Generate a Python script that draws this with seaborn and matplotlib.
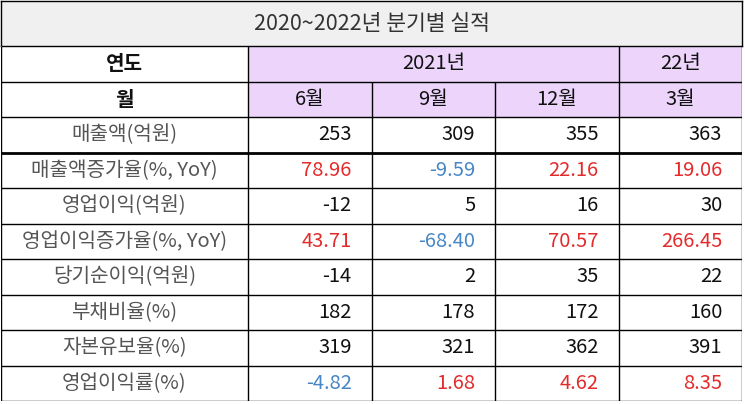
import numpy as np
import pandas as pd
import matplotlib
matplotlib.use("Agg")
import matplotlib.pyplot as plt
from matplotlib.colors import ListedColormap
import seaborn as sns

# ---- data ----
title = "2020~2022년 분기별 실적"
header_year_label = "연도"
header_month_label = "월"
year_groups = ["2021년", "22년"]
year_spans = [3, 1]
months = ["6월", "9월", "12월", "3월"]
row_labels = ["매출액(억원)", "매출액증가율(%, YoY)", "영업이익(억원)", "영업이익증가율(%, YoY)",
              "당기순이익(억원)", "부채비율(%)", "자본유보율(%)", "영업이익률(%)"]
sales = [253, 309, 355, 363]
sales_growth = [78.96, -9.59, 22.16, 19.06]
op_income = [-12, 5, 16, 30]
op_growth = [43.71, -68.40, 70.57, 266.45]
net_income = [-14, 2, 35, 22]
debt_ratio = [182, 178, 172, 160]
reserve_ratio = [319, 321, 362, 391]
op_margin = [-4.82, 1.68, 4.62, 8.35]
values = [sales, sales_growth, op_income, op_growth, net_income, debt_ratio, reserve_ratio, op_margin]
decimal_rows = [1, 3, 7]      # shown with 2 decimals, coloured by sign
colored_rows = [1, 3, 7]

# ---- style ----
sns.set_style("white")
plt.rcParams['font.family'] = ['Noto Sans CJK KR', 'DejaVu Sans']

PURPLE = "#ecd4fb"
GREY_BG = "#f0f0f0"
RED = "#e32b2b"
BLUE = "#4886c6"
LABEL_C = "#555555"
FS = 14.5
FW = "light"

W, H = 745, 404
fig = plt.figure(figsize=(W / 100, H / 100), dpi=100)

# title axes
tax = fig.add_axes([1 / W, (H - 46) / H, 741 / W, 45 / H])
tax.set_xlim(0, 1); tax.set_ylim(0, 1)
tax.set_facecolor(GREY_BG)
tax.set_xticks([]); tax.set_yticks([])
for s in tax.spines.values():
    s.set_color("black"); s.set_linewidth(1.0)
tax.text(0.5, 0.5, title, ha="center", va="center", fontsize=15.5, color="#333333", fontweight=FW)

# table axes (heatmap for cell backgrounds)
n_rows = 2 + len(row_labels)
n_cols = 2 + len(months)
bg = np.zeros((n_rows, n_cols))
bg[0:2, 2:] = 1
bg_df = pd.DataFrame(bg)
ax = fig.add_axes([1 / W, 3 / H, 741 / W, 355 / H])
sns.heatmap(bg_df, cmap=ListedColormap(["#ffffff", PURPLE]), vmin=0, vmax=1, cbar=False,
            xticklabels=False, yticklabels=False, linewidths=0, ax=ax)
ax.set_xlim(0, n_cols); ax.set_ylim(n_rows, 0)
for s in ax.spines.values():
    s.set_visible(False)

lw = 1.0
for r in range(n_rows + 1):
    ax.hlines(r, 0, n_cols, color="black", lw=(2.0 if r == 3 else lw))
for c in [0, 2, n_cols - 1, n_cols]:
    ax.vlines(c, 0, n_rows, color="black", lw=lw)
for c in range(3, n_cols - 1):
    ax.vlines(c, 1, n_rows, color="black", lw=lw)

# header texts
ax.text(1, 0.5, header_year_label, ha="center", va="center", fontsize=FS, fontweight="bold", color="#111111")
ax.text(1, 1.5, header_month_label, ha="center", va="center", fontsize=FS, fontweight="bold", color="#111111")
c0 = 2
for g, sp in zip(year_groups, year_spans):
    ax.text(c0 + sp / 2, 0.5, g, ha="center", va="center", fontsize=FS, fontweight="medium", color="#111111")
    c0 += sp
for j, m in enumerate(months):
    ax.text(2 + j + 0.5, 1.5, m, ha="center", va="center", fontsize=FS, fontweight="medium", color="#111111")

# body
pad = 0.16
for i, (lab, vals) in enumerate(zip(row_labels, values)):
    r = 2 + i
    ax.text(1, r + 0.5, lab, ha="center", va="center", fontsize=FS, color=LABEL_C, fontweight=FW)
    for j, v in enumerate(vals):
        txt = f"{v:.2f}" if i in decimal_rows else f"{v:d}"
        col = "#111111"
        if i in colored_rows:
            col = RED if v >= 0 else BLUE
        ax.text(2 + j + 1 - pad, r + 0.5, txt, ha="right", va="center", fontsize=FS, color=col, fontweight=FW)

fig.savefig("out.png", dpi=100)
